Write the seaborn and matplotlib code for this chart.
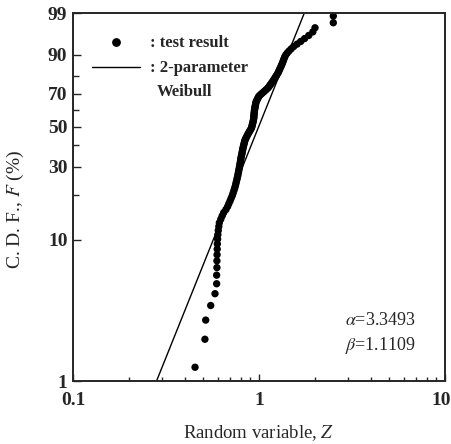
import numpy as np
import matplotlib
matplotlib.use("Agg")
import matplotlib.pyplot as plt
import matplotlib.transforms as mtransforms
import seaborn as sns
import pandas as pd

# ---- data (sorted random variable Z of the test results) ----
z_values = [
    0.426, 0.453, 0.512, 0.517, 0.550, 0.580, 0.592, 0.592, 0.594, 0.594,
    0.595, 0.596, 0.597, 0.599, 0.601, 0.604, 0.608, 0.612, 0.623, 0.634,
    0.646, 0.664, 0.678, 0.688, 0.699, 0.708, 0.718, 0.725, 0.732, 0.739,
    0.745, 0.750, 0.755, 0.760, 0.764, 0.769, 0.772, 0.776, 0.779, 0.783,
    0.786, 0.789, 0.792, 0.795, 0.797, 0.800, 0.803, 0.807, 0.810, 0.813,
    0.816, 0.819, 0.822, 0.826, 0.830, 0.833, 0.837, 0.841, 0.848, 0.855,
    0.862, 0.870, 0.877, 0.886, 0.894, 0.903, 0.911, 0.915, 0.919, 0.922,
    0.926, 0.929, 0.933, 0.935, 0.937, 0.938, 0.939, 0.941, 0.942, 0.944,
    0.945, 0.947, 0.950, 0.952, 0.955, 0.958, 0.960, 0.963, 0.970, 0.977,
    0.984, 0.992, 0.999, 1.016, 1.033, 1.051, 1.069, 1.088, 1.107, 1.123,
    1.136, 1.149, 1.162, 1.175, 1.189, 1.201, 1.214, 1.227, 1.240, 1.253,
    1.267, 1.277, 1.287, 1.298, 1.309, 1.321, 1.332, 1.343, 1.353, 1.364,
    1.375, 1.393, 1.419, 1.451, 1.490, 1.536, 1.603, 1.676, 1.757, 1.851,
    1.947, 2.000, 2.509, 2.509, 2.900,
]
# 2-parameter Weibull fit shown on the chart
alpha_shape = 3.3493
beta_scale = 1.1109

ytick_vals = [1, 10, 30, 50, 70, 90, 99]
ytick_minor = [20, 40, 60, 80]
xtick_vals = [0.1, 1, 10]
xtick_labels = ["0.1", "1", "10"]

sns.set_style("ticks")
plt.rcParams["font.family"] = ["Liberation Serif", "DejaVu Serif"]
plt.rcParams["mathtext.fontset"] = "stix"

fig = plt.figure(figsize=(4.52, 4.44), dpi=100)
ax = fig.add_axes([73/452, 1-381/444, 372/452, 368/444])

# median-rank plotting positions (Bernard) for the sorted test results
ranks = np.arange(1, len(z_values) + 1)
F_pct = (ranks - 0.3) / (len(z_values) + 0.4) * 100
df = pd.DataFrame({"z": z_values, "F": F_pct})
sns.scatterplot(data=df, x="z", y="F", ax=ax, color="black", s=28, edgecolor="none", legend=False)

zl = np.geomspace(0.2, 2.5, 200)
Fl = 100 * (1 - np.exp(-(zl / beta_scale) ** alpha_shape))
dl = pd.DataFrame({"z": zl, "F": Fl})
sns.lineplot(data=dl, x="z", y="F", ax=ax, color="black", lw=1.0, estimator=None, sort=False)

def fwd(F):
    F = np.clip(np.asarray(F, float) / 100, 1e-9, 1 - 1e-9)
    return np.log(-np.log(1 - F))

def inv(w):
    return 100 * (1 - np.exp(-np.exp(w)))

ax.set_xscale("log")
ax.set_yscale("function", functions=(fwd, inv))
ax.set_xlim(0.1, 10)
ax.set_ylim(1, 99)

ax.set_yticks(ytick_vals)
ax.set_yticklabels([str(v) for v in ytick_vals])
ax.set_yticks(ytick_minor, minor=True)
ax.set_yticklabels([], minor=True)
ax.set_xticks(xtick_vals)
ax.set_xticklabels(xtick_labels)
ax.set_xticks([m * d for d in (0.1, 1) for m in range(2, 10)], minor=True)
ax.set_xticklabels([], minor=True)

ax.tick_params(which="both", direction="in", labelsize=14, width=1.0)
ax.tick_params(axis="y", which="major", length=6, pad=4)
ax.tick_params(axis="y", which="minor", length=4.5)
ax.tick_params(axis="x", which="major", length=5, pad=8)
ax.tick_params(axis="x", which="minor", length=3)
for lab in ax.get_xticklabels() + ax.get_yticklabels():
    lab.set_fontweight("bold")
# keep the "10" label inside the figure edge
last = ax.get_xticklabels()[-1]
last.set_transform(last.get_transform() + mtransforms.ScaledTranslation(-4/100, 0, fig.dpi_scale_trans))
for sp in ax.spines.values():
    sp.set_linewidth(1.4)

ax.set_xlabel("Random variable, $Z$", fontsize=13.5)
ax.set_ylabel("C. D. F., $F$ (%)", fontsize=14)
ax.xaxis.label.set_va("center")
ax.xaxis.set_label_coords(0.5, (381-433)/368)
ax.yaxis.set_label_coords(-0.125, 0.466)

# legend (manual, as in the reference)
ax.scatter([(116-73)/372], [(381-41.7)/368], transform=ax.transAxes, s=28, color="black", clip_on=False)
ax.plot([(92-73)/372, (140-73)/372], [(381-66.7)/368]*2, transform=ax.transAxes, color="black", lw=1.0)
ax.text((150-73)/372, (381-42.7)/368, ": test result", transform=ax.transAxes, fontsize=12, fontweight="bold", va="center", ha="left")
ax.text((150-73)/372, (381-68.3)/368, ": 2-parameter", transform=ax.transAxes, fontsize=12, fontweight="bold", va="center", ha="left")
ax.text((157-73)/372, (381-91.7)/368, "Weibull", transform=ax.transAxes, fontsize=12, fontweight="bold", va="center", ha="left")

ax.text((345-73)/372, (381-320)/368, r"$\alpha$=3.3493", transform=ax.transAxes, fontsize=13, va="center", ha="left")
ax.text((345-73)/372, (381-345)/368, r"$\beta$=1.1109", transform=ax.transAxes, fontsize=13, va="center", ha="left")

fig.savefig("out.png", dpi=100)
